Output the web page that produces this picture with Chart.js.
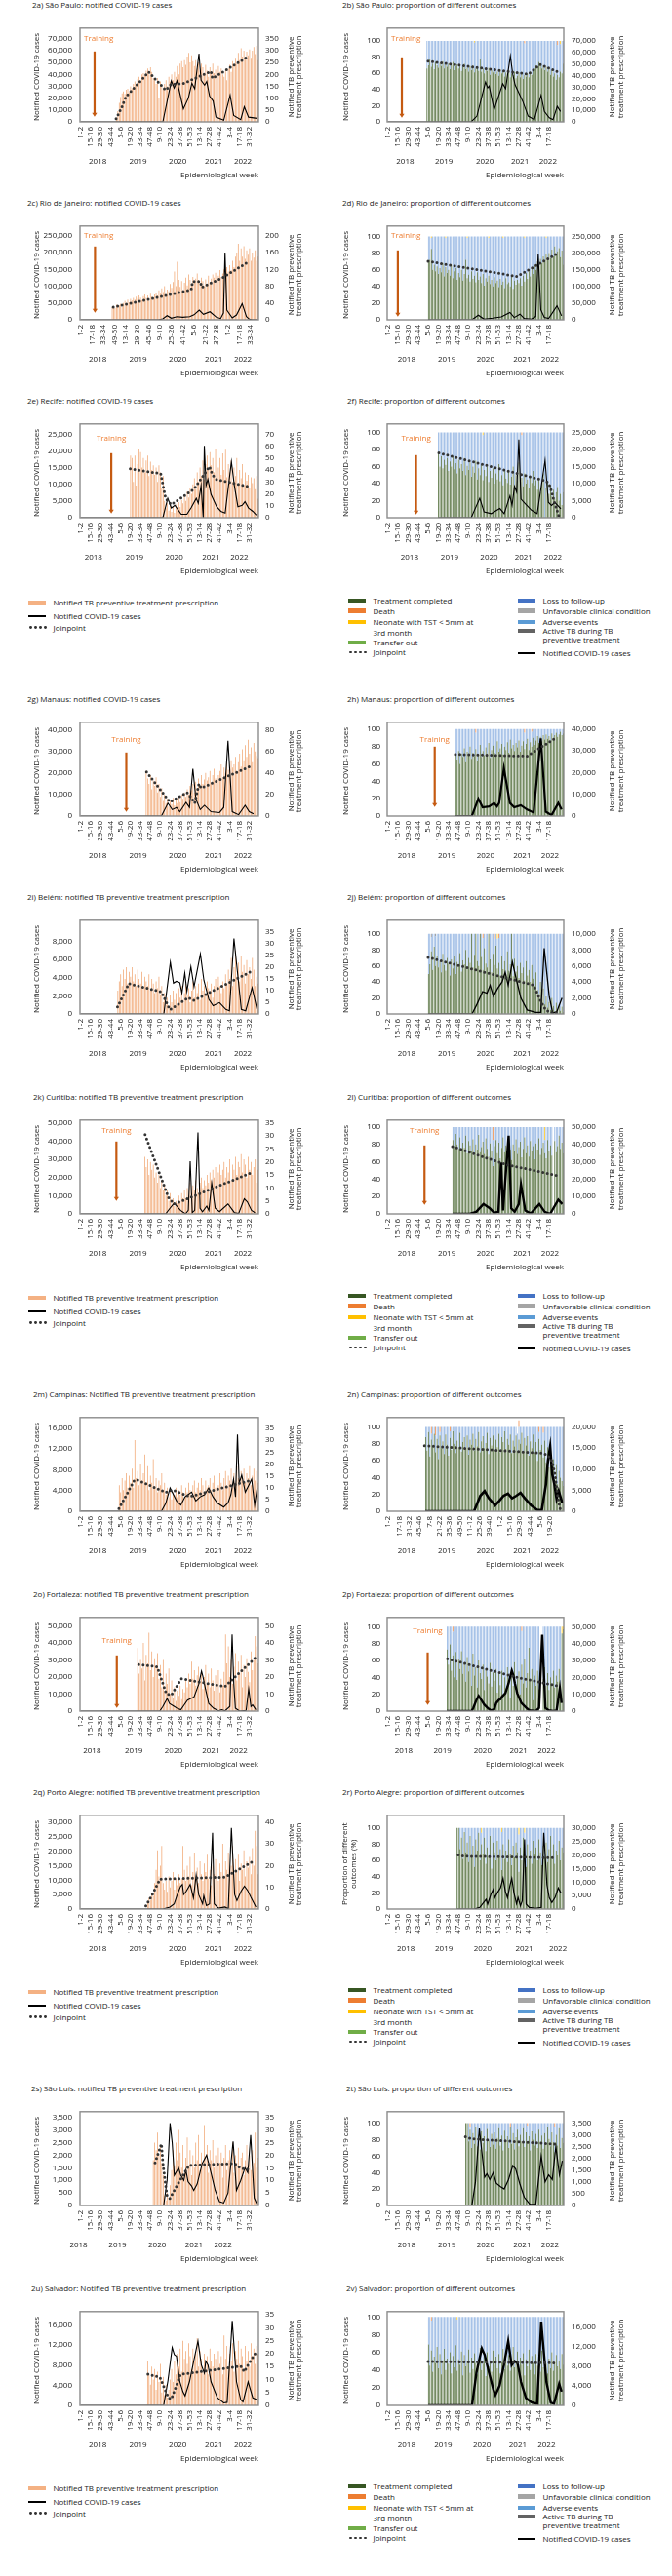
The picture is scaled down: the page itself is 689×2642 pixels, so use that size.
<!DOCTYPE html>
<html>
<head>
<meta charset="utf-8">
<script src="https://cdn.jsdelivr.net/npm/chart.js@4.4.1/dist/chart.umd.min.js"></script>
<style>
  body { margin: 0; width: 689px; height: 2642px; position: relative; background: #fff; font-family: "Open Sans", sans-serif; }
  canvas { position: absolute; }
  .ttl, .lg { position: absolute; font-size: 8px; line-height: 12px; white-space: nowrap; color: #222; }
  .sw { position: absolute; }
</style>
</head>
<body>
<script>
// ---- categories (bi-weekly epidemiological weeks 2018-2022) ----
const yearNames = ['2018', '2019', '2020', '2021', '2022'];
const weeksInYear = [52, 52, 53, 52, 52];
const weekLabels = [];
weeksInYear.forEach(len => {
  for (let w = 1; w < 52; w += 2) weekLabels.push(w + '-' + (w === 51 && len === 53 ? 53 : w + 1));
});
const yearsLeft = [12, 40.5, 68.5, 94, 114.5];
const yearsRight = [13, 41, 68, 93.5, 113];

// ---- São Paulo ----
const spTB = [8,45,80,105,120,128, 118,135,140,125,150,142,160, 170,155,180,190,172,200,205, 195,215,225,200,230,210,185, 175,160,185,100,170,150,140, 160,175,150,190,170,200,175, 210,190,235,200,245,255,230, 260,240,275,290,250,280,255, 235,260,225,250,215,245,230, 200,240,215,190,230,210,245, 205,220,195,235,210,225,200, 190,215,175,225,240,210,255, 235,270,245,290,260,310,275, 300,265,295,280,305,270,300, 315,285,320,260];
const spCovA = [[0,0],[58,0],[64,34500],[66,28500],[68,34500],[72.5,10900],[76,20000],[78.5,32500],[80.5,28000],[83.5,57500],[85,35000],[87.5,31000],[89,34000],[91,21700],[93.5,17600],[95.5,4000],[101,1400],[105.5,22500],[108,5400],[113,1900],[115.5,12700],[118.5,4000],[124.5,3000]];
const spJoinA = [[25,13],[29,61],[32,107],[35,125],[48,210],[60,134],[64,159],[72,160],[92,213],[93,183],[119,278]];
const spDone = [66,70,78,68,72,65,74, 70,67,73,69,75,66,71, 68,72,65,70,74,64,69, 71,66,70,63,68,72,65, 67,62,69,64,70,61,66, 68,63,78,62,66,60,65, 63,67,58,64,61,66,59, 62,57,65,60,63,56,61, 59,64,55,60,58,62,54, 57,61,55,59,53,58,56, 60,55,62,58,64,66,70, 68,74,72,66,70,64,68, 62,66,58,64,56,60,52, 58,55,62,60,72];
const spLoss = [34,30,22,32,28,35,26, 30,33,27,31,25,34,29, 32,28,35,30,26,36,31, 29,34,30,37,32,28,35, 33,38,31,36,30,37,34, 32,37,22,38,34,40,35, 37,33,42,36,39,34,41, 38,43,35,40,37,44,39, 41,36,45,40,42,38,46, 43,39,45,41,47,39,44, 40,45,38,42,36,34,30, 32,26,28,34,30,36,32, 38,34,42,36,44,40,48, 37,45,34,40,28];
const spDeath = [[95,3],[118,5]];
const spNeo = [[60,2],[120,4]];
const spCovB = [[0,0],[58,0],[62,5000],[68,34500],[69.5,29400],[70.5,31000],[74,10600],[80,33000],[82,28800],[85.3,57000],[87,41000],[88.6,32000],[92,23000],[94,17600],[97.7,5000],[102,2000],[106.7,23000],[109,9000],[112.4,3600],[115,2000],[118,13400],[120.3,9000]];
const spJoinB = [[28,75],[98,59],[106,71],[118,62]];

// ---- Rio de Janeiro ----
const rjTB = [30,33,28,36,31,34,38,30, 40,45,37,48,42,50,46,52, 48,55,50,58,53,47,56,60, 52,58,45,62,55,50,60,65, 58,70,62,75,66,80,60,72, 68,85,76,90,115,80,138,95, 78,92,70,88,100,82,108,95, 85,102,90,98,110,95,88,100, 92,80,96,85,105,90,98,108, 100,112,95,105,118,102,110,120, 108,125,115,130,118,140,125,150, 160,181,140,170,150,175,145,165, 155,170,140,160,148,165,140,150];
const rjCovA = [[0,0],[55,0],[58,3000],[61,12500],[64,4800],[68,9600],[72,7700],[77,9600],[80,15000],[83.7,28800],[86.7,16300],[91.3,24000],[95.8,7700],[98.8,3800],[100.8,20000],[101.9,200000],[103.2,28800],[107,5800],[110,14400],[114,48000],[117,9600],[119,2000],[121,0],[125,0]];
const rjJoinA = [[23,30],[78,71.5],[79,91],[84.5,91],[85.5,77],[100,100],[118,137]];
const rjDone = [69,72,85,60,66,58,64, 55,62,57,68,52,63,56, 60,53,66,50,58,62,48, 56,51,60,47,55,72,50, 54,46,58,49,53,45,57, 48,52,44,55,41,50,46, 53,43,48,40,51,44,47, 39,49,42,46,38,50,43, 45,40,52,37,47,42,48, 44,50,41,53,46,56,49, 58,52,62,55,66,60,70, 64,73,68,76,70,79,72, 80,74,84,76,88,78,82, 86,75,83,66];
const rjLoss = [31,28,13,40,34,42,36, 45,38,43,32,48,35,44, 40,47,34,50,42,38,52, 44,49,40,53,45,28,48, 46,54,42,51,47,55,43, 52,48,56,45,59,50,54, 45,57,52,60,49,56,53, 61,51,58,52,62,50,57, 55,60,48,63,53,58,52, 56,50,59,47,52,44,51, 42,48,38,45,34,40,30, 36,27,32,24,30,19,28, 20,26,16,24,12,22,18, 14,25,17,34];
const rjNeo = [[30,2],[40,2],[55,2],[70,2],[80,2],[95,2],[110,2]];
const rjCovB = [[28,0],[58.5,0],[63,14000],[67,2000],[73,5000],[79,9000],[85,22000],[88,7000],[92,17000],[95,4000],[100,2000],[103,10000],[104.7,197000],[106.5,30000],[109,7000],[112,4000],[117.8,42000],[121,12000]];
const rjJoinB = [[28,70],[90,52],[118.5,80]];

// ---- Recife ----
const reTB = [52,50,30,52,27,45,58, 55,42,50,38,48,52,35, 47,40,44,36,42,30,44, 38,25,35,14,8,12,6, 10,5,9,4,11,7,13, 9,15,12,18,14,22,17, 25,20,28,33,24,38,30, 42,35,48,32,45,52,40, 55,44,50,38,58,46,42, 50,36,54,40,57,34,45, 38,48,30,42,35,50,28, 40,33,45,27,38,31,36, 25,34,29,33,24,35,16];
const reCovA = [[0,0],[58,0],[61.5,5800],[64,2900],[66.5,3700],[71,1000],[75,1000],[78,3000],[81.6,5800],[83,4300],[85,9600],[86.5,0],[87.3,21500],[88.5,9600],[89.8,11500],[92,7000],[96,3300],[99,1900],[102,1400],[106.4,16800],[108.5,9600],[111,3300],[114,3700],[116,4800],[118.5,2900],[121.5,1900],[124,800]];
const reJoinA = [[35,41],[56.5,37],[60,16],[64,11],[80,24],[91,43],[93,36],[96,32],[118.5,26]];
const reDone = [75,60,72,58,68,62,70, 55,66,60,72,57,64,52, 68,58,63,55,70,50,61, 56,65,48,60,53,67,45, 58,50,62,44,56,49,60, 42,55,47,58,40,52,45, 63,43,50,38,57,46,41, 54,39,48,60,36,50,44, 65,42,47,37,52,40,45, 35,48,41,55,38,44,33, 46,30,40,52,0,35,42, 28,38,25,33,22,30,36, 20,28,15,30];
const reLoss = [25,40,28,42,32,38,30, 45,34,40,28,43,36,48, 32,42,37,45,30,50,39, 44,35,52,40,47,33,55, 42,50,38,53,44,51,40, 58,45,53,42,60,48,55, 37,57,50,62,43,54,59, 46,61,52,40,64,50,56, 35,58,50,63,48,60,55, 65,52,59,45,62,56,67, 54,70,60,48,100,65,58, 72,62,75,67,78,70,64, 80,72,85,70];
const reDeath = [[93,3]];
const reNeo = [[66,3]];
const reCovB = [[35,0],[58,0],[64,5700],[67,1700],[72,1200],[78,2700],[81,1200],[85,6400],[86.5,3600],[88.2,9200],[89.7,7500],[91.2,22900],[92.7,5500],[95.5,4200],[100,2200],[104,1200],[109.5,16800],[111.8,4500],[114,3600],[116.3,4500],[120.5,2600]];
const reJoinB = [[35.5,76],[110.5,43],[113,37],[116,18],[119.5,0]];

// ---- Manaus ----
const maTB = [42,35,30,38,25,33,28, 36,22,30,18,26,14,20, 12,16,9,14,11,17,10, 15,12,18,13,20,16,22, 18,25,20,28,24,30,22, 32,26,35,28,38,30,34, 40,33,36,42,30,38,44, 35,46,38,42,48,36,45, 40,50,43,38,52,45,48, 55,42,50,58,46,62,52, 66,55,71,58,64,50,68, 60,56,54];
const maCovA = [[0,0],[57,0],[61.6,6000],[64.6,3000],[67.7,4000],[70,2000],[73,5000],[74.4,6400],[76.8,4000],[79.2,22000],[81.3,8000],[84.4,3000],[87.4,5000],[92,2000],[98,1600],[101,4000],[104,35000],[107,2000],[111.5,600],[116.1,5000],[119,2000],[122,1000]];
const maJoinA = [[46.5,41],[63,13],[75,22],[78,17],[80.5,12],[83.5,30],[85,26],[121,47]];
const maDone = [70,65,75,60,72,68,78, 62,74,70,80,66,73,69, 77,64,71,82,68,75,70, 79,72,84,67,76,81,73, 70,86,74,78,83,71,80, 76,85,73,88,78,82,75, 84,79,87,74,81,86,77, 83,89,76,85,80,90,82, 87,92,84,91,86,93,88, 94,89,92,87,95,90,93, 96,91,94,97,93,95];
const maLoss = [30,35,25,40,28,32,22, 38,26,30,20,34,27,31, 19,36,29,18,32,25,30, 21,28,16,33,24,19,27, 30,14,26,22,17,29,20, 24,15,27,12,22,18,25, 16,21,13,26,19,14,19, 17,11,24,15,17,10,18, 13,8,16,9,14,7,12, 6,11,8,13,5,10,7, 4,9,6,3,7,5];
const maDeath = [[61,4],[95,4],[100,3]];
const maCovB = [[47,0],[58.5,0],[63,8000],[66,4000],[70.5,4400],[74,6000],[76,4400],[77.5,6000],[80.8,22000],[85,6000],[88,4000],[92.6,5000],[97,3000],[101.5,1600],[106.5,35700],[110,2000],[114,400],[118.7,6000],[121,3000]];
const maJoinB = [[47,71],[97,69],[117,90]];

// ---- Belém ----
const beTB = [10,14,17,12,19,15,20, 13,18,16,20,14,17,12, 19,15,13,18,11,16,14, 12,17,10,15,13,9,14, 11,16,8,12,5,9,4, 7,3,8,5,10,6,9, 4,11,7,12,6,9,13, 8,11,5,10,14,7,12, 9,13,6,15,10,12,8, 14,11,9,13,7,12,15, 10,16,12,9,14,11,17, 13,19,15,24,12,20,27, 16,22,14,25,18,21,13, 23,17,20,15,24,19,12, 16,13];
const beCovA = [[0,0],[58.7,0],[63.3,5700],[65.5,3400],[67.6,3600],[70,3450],[71.5,2300],[73.5,4500],[75,2500],[77.8,5200],[80,3000],[84.5,6600],[87,3700],[90.5,1600],[93.5,900],[98,1250],[102.5,500],[105,350],[108.2,8300],[111.3,3700],[113.4,500],[116.5,350],[121,2900],[124.5,500]];
const beJoinA = [[26,3],[30,8],[34,13],[57,9.5],[63,1.8],[76,7],[80,5.8],[121,18.4]];
const beDone = [50,62,78,55,84,60,72, 58,66,52,75,61,54,70, 63,48,68,57,72,50,65, 59,76,53,67,62,80,56, 70,64,100,58,74,100,66, 60,100,71,55,82,63,58, 100,68,52,75,61,85,57, 64,48,72,56,66,50,78, 54,62,100,47,69,53,60, 45,64,51,58,42,66,48, 55,40,61,44,35,52,30, 25,40,18,32,12,22,8, 15,5,20,10,3,14,6, 12,4,9,2];
const beLoss = [50,38,18,45,16,37,28, 42,34,48,25,39,46,30, 37,52,32,43,28,50,35, 41,24,47,33,38,20,44, 30,36,0,42,26,0,34, 40,0,29,40,18,37,42, 0,32,48,25,33,15,37, 31,52,28,44,34,50,22, 46,38,0,53,31,47,40, 55,36,49,42,58,34,52, 45,60,39,56,65,48,70, 75,60,82,68,88,78,92, 85,95,80,90,97,86,94, 88,96,91,98];
const beDeath = [[66,5],[74,6],[77,5]];
const beNeo = [[76,6]];
const beActive = [[30,4],[33,3]];
const beCovB = [[28,0],[58.6,0],[62,1200],[66,2800],[69,2600],[71.2,3600],[73.5,2200],[76.5,3200],[79.5,4000],[81.7,5200],[83.8,3600],[86.7,6500],[89.6,4200],[92.6,2000],[97,500],[103,200],[106.5,200],[108.9,8200],[112.4,2200],[114.8,100],[117.7,300],[121.3,2000]];
const beJoinB = [[28,70.6],[101.5,36],[104,26],[107,14],[110,5],[113,2],[119,0.8]];

// ---- Curitiba ----
const cuTB = [22,18,21,15,20,17,19, 14,16,12,15,10,13,9, 11,7,9,5,8,4,6, 3,5,4,7,5,8,6, 9,6,10,7,12,8,11, 9,13,10,8,12,14,10, 13,11,15,12,16,13,17, 14,18,12,16,19,15,17, 20,14,18,16,21,13,19, 17,22,15,20,18,23,16, 21,19,14,22,17,20,15, 18,21,12,17];
const cuCovA = [[0,0],[60,0],[63,3100],[66,6000],[70.5,1900],[74,0],[76,2000],[77.3,29000],[78.8,700],[80.5,2000],[82.8,44800],[84.3,3100],[86,1200],[89,4300],[90.5,1900],[92.5,17000],[95,3100],[98,1200],[104,5500],[108.5,700],[111.5,200],[115.5,8300],[117.6,6700],[120.6,1900],[123,700]];
const cuJoinA = [[45.5,30.5],[62,6.3],[66,3.8],[121,16]];
const cuDone = [85,78,92,80,75,88,72, 82,76,90,70,84,79,73, 86,68,80,74,91,71,77, 83,69,87,75,66,81,72, 55,78,85,70,82,64,76, 88,71,79,67,84,74,62, 80,73,86,69,77,83,65, 75,88,70,79,66,84,72, 78,63,81,74,87,68,76, 82,70,64,85,73,79,67, 0,84,71,78,90,75,82, 70];
const cuLoss = [15,22,8,20,25,12,28, 18,24,10,30,16,21,27, 14,32,20,26,9,29,23, 17,31,13,25,34,19,28, 30,22,15,30,18,36,24, 12,29,21,33,16,26,38, 20,27,14,31,23,17,35, 25,12,30,21,34,16,28, 22,37,19,26,13,32,24, 18,15,36,15,27,21,33, 0,16,29,22,10,25,18, 30];
const cuDeath = [[73,15]];
const cuNeo = [[109,15]];
const cuCovB = [[45,0],[57,0],[61.5,1200],[66.6,5700],[71,3200],[74,700],[77,1200],[78.8,29600],[80.2,2000],[84.1,45000],[85.9,3200],[88.3,1200],[91.2,5700],[92.7,17000],[95.7,2000],[99.5,200],[105.5,5700],[109.2,1200],[113,0],[118.7,8200],[121.5,5700]];
const cuJoinB = [[45,77.6],[82,57],[119,43.8]];

// ---- Campinas ----
const caTB = [11,8,14,9,13,16,10, 15,12,18,10,30,14,17, 11,20,13,16,24,12,19, 9,15,12,22,10,14,8, 13,11,16,9,12,7,10, 6,9,5,8,7,10,6, 9,7,11,8,6,10,8, 12,9,7,11,13,8,10, 12,9,14,11,8,13,10, 11,14,9,12,15,10,13, 11,16,12,9,14,17,11, 15,13,18,10,16,12,19, 14,11,17,13,18,12,16, 14,19,11,15,18,13,17, 12];
const caCovA = [[0,0],[57,0],[60,1500],[63.1,4500],[67.7,2000],[70.7,1200],[73.7,2800],[78.3,3700],[81.3,2000],[84.4,2800],[87.4,3200],[90.4,4500],[93.4,2800],[96.5,1600],[101,800],[104,1600],[106,3200],[107.9,6200],[109.3,2800],[110.7,14800],[111.9,5400],[113.7,7000],[116.2,3700],[118.6,5000],[120.7,6200],[122.8,1200],[124.6,4500]];
const caJoinA = [[27,1.1],[38,13.2],[40,13.2],[60,8],[65,9],[77,6.2],[121,13.2]];
const caDone = [88,72,94,65,85,78,92, 70,86,62,90,75,83,68, 91,79,66,87,73,95,80, 69,84,76,93,71,82,88, 74,90,67,85,79,92,72, 86,77,94,70,83,89,75, 81,93,68,87,78,90,73, 85,76,92,70,88,82,95, 74,86,79,91,69,84,77, 90,72,85,80,93,71,87, 78,89,66,83,75,91,70, 82,60,86,73,79,64,84, 58,76,52,70,45,62,38, 55,32,48,40,36,30];
const caLoss = [12,28,6,35,7,22,8, 20,14,38,4,25,17,32, 9,21,34,8,27,5,20, 31,16,24,7,29,18,12, 26,10,33,15,21,8,28, 14,23,6,30,17,11,25, 19,7,32,13,22,10,27, 15,24,8,30,12,18,5, 26,14,21,9,31,16,23, 10,20,15,20,7,29,13, 22,11,34,17,25,9,30, 18,40,8,27,21,29,16, 42,24,48,30,55,38,62, 45,68,52,60,64,70];
const caDeath = [[30,8],[33,10],[36,6],[43,5],[91,8],[105,6],[108,7]];
const caCovB = [[26,0],[60,0],[64.4,3700],[67.4,4800],[70.3,3100],[74.7,1400],[77.7,2500],[80.6,3700],[83.6,4200],[86.5,3100],[89.5,3700],[92.4,4400],[95.4,3100],[99.8,1400],[104.2,300],[107.2,300],[110.1,6400],[111.5,12000],[113,15300],[114.5,8700],[116,6400],[117.5,3000],[119,4800],[121.5,2000]];
const caJoinB = [[25.5,77.8],[107,69],[111.5,66.5],[114.5,58.8],[116.5,43],[117.5,28],[119,11],[120,3]];

// ---- Fortaleza ----
const foTB = [37,22,30,25,40,18,33, 28,46,24,35,20,31,26, 34,19,27,14,30,12,22, 16,25,10,18,8,14,6, 12,9,15,7,13,11,18, 14,22,16,29,19,24,15, 21,26,17,23,13,20,27, 16,22,14,25,18,12,21, 17,24,11,19,15,23,45, 28,38,20,30,16,26,34, 18,29,22,33,14,27,20, 31,23,17,35,24,30,44, 38,28];
const foCovA = [[0,0],[55.8,0],[58,2700],[61.1,7400],[62.7,4500],[66.1,2700],[68.4,1500],[70.7,800],[73,3600],[75.4,6400],[77.7,7400],[80,8300],[83.4,15900],[85.3,23500],[86.2,20600],[87.4,15900],[88.1,13000],[90.4,4500],[93.8,1700],[97.3,200],[99.6,800],[101.9,200],[105.3,2700],[106.9,45000],[108.1,15900],[109.2,1700],[112.2,0],[116.8,400],[118.6,13000],[120.2,2700],[121.4,3600],[123.7,800]];
const foJoinA = [[41,27.3],[54,26],[60.5,10.2],[64,9.3],[71,19],[101.8,14.4],[123,31]];
const foDone = [73,55,79,48,66,40,70, 37,62,50,71,44,58,35, 64,47,56,30,68,42,52, 28,60,45,38,55,25,49, 41,33,57,29,46,36,50, 22,44,31,48,18,40,27, 52,35,15,43,30,58,24, 38,47,20,55,33,62,28, 45,75,36,50,13,42,30, 48,26,0,0,38,52,30, 45,25,40,33,48,28,42, 35,50,30,92,97];
const foLoss = [27,45,21,52,28,60,30, 63,38,50,29,56,42,65, 36,53,44,70,32,58,48, 72,40,55,62,45,75,51, 59,67,43,71,54,64,50, 78,56,69,52,82,60,73, 48,65,85,57,70,42,76, 62,53,80,40,67,38,72, 55,25,64,50,87,58,70, 52,74,0,0,62,48,70, 55,75,60,67,52,72,58, 65,50,70,0,0];
const foDeath = [[45,6],[93,5]];
const foNeo = [[121,8],[122,3]];
const foCovB = [[41,0],[58.3,0],[59.5,1900],[61.7,6700],[63.2,9000],[65,6700],[67.2,3800],[69.4,1900],[71.7,400],[74,1000],[75.5,4800],[77.3,6700],[78.4,7100],[79.5,8600],[81.8,10600],[84,16300],[86.3,24000],[87.4,21200],[88.5,16300],[90.1,10600],[93,4800],[96.4,1900],[98.6,400],[103.1,0],[105.3,1900],[107.5,45200],[109.7,1900],[112,400],[115.3,0],[117.5,400],[119.8,13500],[121,4800]];
const foJoinB = [[41.5,62],[90,40],[118,30]];

// ---- Porto Alegre ----
const paTB = [3,5,4,7,6,12,18, 27,15,20,29,12,9,13, 8,15,10,13,17,9,14, 11,16,12,14,29,18,13, 20,15,24,11,17,26,14, 19,12,22,16,13,21,17, 25,14,18,11,20,16,23, 19,13,21,17,30,15,22, 18,26,14,20,29,16,23, 17,25,13,21,18,27,15, 22,19,24,16,28,20,36, 29,16];
const paCovA = [[0,0],[58,0],[63,700],[66,1800],[68.2,5000],[70.5,7800],[71.8,8500],[72.7,5000],[74.6,6200],[77.3,8500],[79.6,3800],[81.5,11800],[83.3,5000],[86.1,1800],[86.9,4600],[88.8,1200],[91,1800],[93.1,26300],[94.3,1800],[97.3,300],[101.9,700],[104.2,100],[106.4,28000],[108.7,5000],[110.3,2900],[113.3,6200],[115.6,7900],[117.9,6400],[120.2,4000],[123.7,700]];
const paJoinA = [[46,1.5],[50,6],[56,13.8],[102,14.7],[122,22]];
const paDone = [100,100,74,88,62,95,70, 82,58,90,66,78,52,86, 72,94,60,80,68,88,56, 76,64,90,50,82,70,60, 84,66,74,48,80,62,72, 58,86,68,54,78,64,82, 70,46,76,60,88,66,52, 80,62,72,56,84,68,76, 60,86,70,54,78,64,82, 58,74,90,62,80,56,72, 66,84,60,76,70];
const paLoss = [0,0,26,12,38,5,30, 18,42,10,34,22,48,14, 28,6,40,14,32,12,44, 24,36,10,50,18,30,40, 16,34,26,47,20,38,28, 42,14,32,46,22,36,18, 30,46,24,40,12,28,48, 20,38,28,44,16,32,24, 40,14,30,46,22,36,18, 42,26,10,38,20,44,28, 34,16,40,24,30];
const paNeo = [[65,6],[79,5],[91,8],[95,6]];
const paCovB = [[48,0],[60,0],[64,600],[68.4,3600],[69.5,1800],[71.7,5400],[73.3,7200],[74.4,4200],[76.2,6000],[78.4,7800],[80.2,11400],[81.8,6600],[83.3,4200],[85.1,9000],[86.3,11400],[87.8,6000],[89.6,2000],[90.7,4200],[92.3,1200],[93.6,3000],[95.2,25800],[96.3,1800],[98.5,600],[103,200],[106.8,600],[108.6,28200],[110.8,9000],[112.4,4200],[114.2,2400],[116.4,4200],[118.7,7800],[120.5,6000]];
const paJoinB = [[49,66.8],[53,65.2],[117,63.2]];

// ---- São Luís ----
const slTB = [18,25,22,29,20,24,17, 12,4,2,5,3,8,14, 22,16,25,18,30,21,15, 24,13,19,27,16,22,12, 20,15,25,18,28,14,21, 17,32,19,24,13,22,18, 26,15,20,12,23,17,21, 11,19,24,14,18,22,16, 25,13,20,17,23,15,19, 21,12,18,24,16,20,14, 22,17,29,15,19];
const slCovA = [[0,0],[58.6,0],[61,1000],[63.1,3270],[64.6,2500],[66.1,1200],[67.6,1350],[69.1,1500],[70.7,1200],[72.8,1000],[74.3,1400],[75.8,950],[78.2,780],[79.8,600],[82.2,850],[85.8,1670],[88.9,2000],[92,1300],[95,600],[98,150],[101,100],[104,500],[107.6,2550],[110,600],[113,1000],[116,1500],[118,1300],[120,2800],[122.5,300],[124.5,50]];
const slJoinA = [[52.5,17],[55.5,22],[57,24.5],[58,17],[61,3.6],[63,2.8],[68,8],[76.5,16],[108.5,16.7],[113,14.8],[118,14.4]];
const slDone = [100,100,78,92,70,88,75, 95,72,86,68,90,76,84, 66,93,79,71,87,74,89, 69,82,94,73,85,67,91, 77,84,70,96,75,88,68, 83,92,72,86,78,94,71, 89,76,84,67,90,80,73, 87,70,92,78,85,69,88, 74,96,81,72,89,77,65, 86,73,94,70,82,76];
const slLoss = [0,0,22,4,30,12,25, 5,28,14,32,10,24,16, 34,7,21,29,13,26,11, 31,18,6,27,15,33,9, 23,16,30,0,25,12,32, 17,8,28,14,22,6,29, 11,21,16,33,10,20,27, 13,30,8,22,15,31,12, 26,4,19,28,11,23,30, 14,27,6,30,18,24];
const slDeath = [[57,4],[85,4],[97,3],[116,5]];
const slCovB = [[54,0],[58.5,0],[61,1000],[63.7,3270],[65.4,2300],[67.4,1200],[69,1350],[71,1100],[73.4,1400],[75.5,950],[78.5,800],[81,700],[84,1100],[87,1700],[89,1550],[92,900],[95,350],[99,50],[103,50],[106.8,2100],[109.5,1000],[112,1300],[114.5,1100],[117,2500],[119.5,1300],[121.5,1900]];
const slJoinB = [[54,83.5],[58,81],[118,74.5]];

// ---- Salvador ----
const saTB = [17,12,8,15,10,14,6, 13,9,16,5,11,4,8, 3,6,10,14,9,17,12, 20,15,22,13,25,18,21, 16,24,19,14,22,17,20, 26,15,21,18,13,20,16, 19,12,22,17,15,20,18, 14,21,16,19,12,27,18, 23,15,20,17,24,13,21, 18,25,16,22,19,14,23, 17,21,15,24,19,22,16, 23,20];
const saCovA = [[0,0],[58.6,0],[61.6,4900],[64.6,11500],[66.1,10100],[67.6,9800],[70,4700],[72.2,2700],[73.7,1900],[76.8,4700],[79.8,8800],[82.8,12800],[85.2,8000],[87.3,6400],[88.3,8800],[89.9,8000],[92,4700],[96.5,1500],[101,500],[103.4,600],[107,16800],[110,4700],[113,1100],[114.6,700],[118.2,4700],[121.5,1500],[124.5,1100]];
const saJoinA = [[47.5,12.1],[56,10.8],[62,2.9],[64,2.4],[70.5,12],[108.5,14.8],[113,15.2],[115.5,13],[118,15.5],[123.5,20.3]];
const saDone = [69,45,62,38,55,48,66, 42,58,35,51,64,40,53, 47,60,36,56,43,68,39, 52,46,61,34,57,44,50, 63,37,54,41,59,48,35, 52,65,40,47,56,33,60, 44,51,38,62,46,55,42, 58,36,49,64,41,53,45, 57,39,50,66,43,48,61, 37,54,46,59,34,52,44, 63,40,56,48,35,58,45, 51,38,62,43,55,47,36, 53,42,60,39,49,57,44, 50,41,58,46];
const saLoss = [31,55,34,62,45,52,34, 58,42,65,49,36,60,47, 53,40,64,44,57,32,58, 48,54,39,66,43,56,50, 37,63,46,59,41,52,65, 48,35,60,53,44,67,40, 56,49,62,38,54,45,58, 42,64,51,36,59,47,55, 43,61,50,34,57,52,39, 63,46,54,41,66,48,56, 37,60,44,52,65,42,55, 49,62,38,57,45,53,64, 47,58,40,61,51,43,56, 50,59,42,54];
const saDeath = [[30,4]];
const saNeo = [[48,3]];
const saCovB = [[28,0],[58.6,0],[61.7,6700],[65.4,11600],[67.4,10300],[70.4,6700],[73.4,3300],[74.9,2100],[77.8,4000],[80.8,8200],[83.8,13100],[86.2,8200],[88.3,9000],[90.3,8600],[92.7,4800],[96.2,1500],[100,600],[104,300],[106.8,17000],[110.4,4800],[113.4,600],[115.7,300],[119.3,4400],[121,2800]];
const saJoinB = [[28,49.5],[118,48]];

// ---- panels ----
const panels = [
  {side: 'L', t: 5, tx: 33, title: '2a) São Paulo: notified COVID-19 cases', yl: [70000, 10000], yr: [350, 50], head: 1.128,
   train: {i: 9.8, ty: 11, a0: 24, a1: 91}, bars: spTB, start: 25, cov: spCovA, join: spJoinA},
  {side: 'R', t: 5, tx: 351, title: '2b) São Paulo: proportion of different outcomes', yr: [70000, 10000], head: 1.159,
   train: {i: 9.7, ty: 11, a0: 30, a1: 92}, done: spDone, loss: spLoss, start: 27, death: spDeath, neo: spNeo, cov: spCovB, join: spJoinB, lw: 1.1, years: [12, 39, 67.5, 92, 111.5]},
  {side: 'L', t: 208, tx: 28, title: '2c) Rio de Janeiro: notified COVID-19 cases', yl: [250000, 50000], yr: [200, 20], head: 1.115,
   train: {i: 10.1, ty: 10, a0: 21, a1: 89}, bars: rjTB, start: 22, cov: rjCovA, join: rjJoinA, tk: [8, 8, 120]},
  {side: 'R', t: 208, tx: 351, title: '2d) Rio de Janeiro: proportion of different outcomes', yr: [250000, 50000], head: 1.124,
   train: {i: 6.9, ty: 10, a0: 25, a1: 93}, done: rjDone, loss: rjLoss, start: 28, neo: rjNeo, cov: rjCovB, join: rjJoinB, lw: 1.1},
  {side: 'L', t: 411, tx: 28, title: '2e) Recife: notified COVID-19 cases', yl: [25000, 5000], yr: [70, 10], head: 1.123,
   train: {i: 21.6, ty: 15, a0: 30, a1: 92}, bars: reTB, start: 35, cov: reCovA, join: reJoinA, years: [9, 38, 66, 92, 112]},
  {side: 'R', t: 411, tx: 356, title: '2f) Recife: proportion of different outcomes', yr: [25000, 5000], head: 1.10,
   train: {i: 19.6, ty: 15, a0: 32, a1: 93}, done: reDone, loss: reLoss, start: 35, death: reDeath, neo: reNeo, cov: reCovB, join: reJoinB, lw: 1.1, years: [15, 43, 70.5, 94.5, 115]},
  {side: 'L', t: 717, tx: 28, title: '2g) Manaus: notified COVID-19 cases', yl: [40000, 5000], yr: [80, 10], head: 1.09,
   train: {i: 32.2, ty: 18, a0: 31, a1: 92}, bars: maTB, start: 46, cov: maCovA, join: maJoinA},
  {side: 'R', t: 717, tx: 356, title: '2h) Manaus: proportion of different outcomes', yr: [40000, 5000], head: 1.079,
   train: {i: 32.6, ty: 18, a0: 25, a1: 87}, done: maDone, loss: maLoss, start: 47, death: maDeath, cov: maCovB, join: maJoinB, lw: 2.2},
  {side: 'L', t: 920, tx: 28, title: '2i) Belém: notified TB preventive treatment prescription', yl: [9000, 1000], yr: [35, 5], head: 1.146,
   bars: beTB, start: 26, cov: beCovA, join: beJoinA},
  {side: 'R', t: 920, tx: 356, title: '2j) Belém: proportion of different outcomes', yr: [10000, 2000], head: 1.17,
   done: beDone, loss: beLoss, start: 28, death: beDeath, neo: beNeo, active: beActive, cov: beCovB, join: beJoinB, lw: 1.3},
  {side: 'L', t: 1125, tx: 34, title: '2k) Curitiba: notified TB preventive treatment prescription', yl: [50000, 5000], yr: [35, 5], head: 1.033,
   train: {i: 25.2, ty: 11, a0: 22, a1: 83}, bars: cuTB, start: 45, cov: cuCovA, join: cuJoinA},
  {side: 'R', t: 1125, tx: 356, title: '2l) Curitiba: proportion of different outcomes', yr: [50000, 5000], head: 1.08,
   train: {i: 25.5, ty: 11, a0: 26, a1: 87}, done: cuDone, loss: cuLoss, start: 45, death: cuDeath, neo: cuNeo, cov: cuCovB, join: cuJoinB, lw: 2.4},
  {side: 'L', t: 1430, tx: 34, title: '2m) Campinas: Notified TB preventive treatment prescription', yl: [16000, 2000], yr: [35, 5], head: 1.131,
   bars: caTB, start: 27, cov: caCovA, join: caJoinA},
  {side: 'R', t: 1430, tx: 356, title: '2n) Campinas: proportion of different outcomes', yr: [20000, 5000], head: 1.113,
   done: caDone, loss: caLoss, start: 26, death: caDeath, cov: caCovB, join: caJoinB, lw: 2.6, tk: [7, 8, 113]},
  {side: 'L', t: 1635, tx: 34, title: '2o) Fortaleza: notified TB preventive treatment prescription', yl: [50000, 5000], yr: [50, 5], head: 1.099,
   train: {i: 25.5, ty: 24, a0: 39, a1: 93}, bars: foTB, start: 40, cov: foCovA, join: foJoinA, years: [8, 37.5, 65.5, 92, 111.5]},
  {side: 'R', t: 1635, tx: 351, title: '2p) Fortaleza: proportion of different outcomes', yr: [50000, 10000], head: 1.11,
   train: {i: 27.7, ty: 14, a0: 36, a1: 90}, done: foDone, loss: foLoss, start: 41, death: foDeath, neo: foNeo, cov: foCovB, join: foJoinB, lw: 2.4, years: [11, 38, 66, 91, 110.5]},
  {side: 'L', t: 1838, tx: 34, title: '2q) Porto Alegre: notified TB preventive treatment prescription', yl: [30000, 5000], yr: [40, 5], head: 1.078,
   bars: paTB, start: 47, cov: paCovA, join: paJoinA},
  {side: 'R', t: 1838, tx: 351, title: '2r) Porto Alegre: proportion of different outcomes', yr: [30000, 5000], head: 1.156,
   done: paDone, loss: paLoss, start: 48, neo: paNeo, cov: paCovB, join: paJoinB, lw: 1.2,
   lt: ['Proportion of different', 'outcomes (%)'], ltx: [9, 17.5], years: [12.5, 39, 66, 95, 118.5]},
  {side: 'L', t: 2142, tx: 32, title: '2s) São Luís: notified TB preventive treatment prescription', yl: [3500, 500], yr: [35, 5], head: 1.065,
   bars: slTB, start: 51, cov: slCovA, join: slJoinA, years: [-1.5, 26, 54, 80, 100.5]},
  {side: 'R', t: 2142, tx: 355, title: '2t) São Luís: proportion of different outcomes', yr: [3500, 500], head: 1.14,
   done: slDone, loss: slLoss, start: 54, death: slDeath, cov: slCovB, join: slJoinB, lw: 1.2},
  {side: 'L', t: 2347, tx: 32, title: '2u) Salvador: Notified TB preventive treatment prescription', yl: [18000, 2000], yr: [35, 5], head: 1.036,
   bars: saTB, start: 47, cov: saCovA, join: saJoinA},
  {side: 'R', t: 2347, tx: 355, title: '2v) Salvador: proportion of different outcomes', yr: [18000, 2000], head: 1.06,
   done: saDone, loss: saLoss, start: 28, death: saDeath, neo: saNeo, cov: saCovB, join: saJoinB, lw: 2.4, years: [13, 38.5, 65.5, 90.5, 110.5]}
];
const legendTops = [616, 1329, 2041, 2550];

const FONT = '"Open Sans", sans-serif';
Chart.defaults.font.family = FONT;
Chart.defaults.font.size = 8;
Chart.defaults.color = '#222';

// frame, "Training" marker and rotated side titles
const decor = {
  id: 'decor',
  afterDatasetsDraw(chart, args, o) {
    const {ctx, chartArea: a} = chart;
    ctx.save();
    ctx.strokeStyle = '#8c8c8c';
    ctx.lineWidth = 1.4;
    ctx.strokeRect(a.left, a.top, a.right - a.left, a.bottom - a.top);
    const tr = o.train;
    if (tr) {
      const x = chart.scales.xl.getPixelForValue(tr.i);
      const y0 = a.top + tr.a0, y1 = a.top + tr.a1;
      ctx.strokeStyle = '#c55a11';
      ctx.fillStyle = '#c55a11';
      ctx.lineWidth = 2.2;
      ctx.beginPath(); ctx.moveTo(x, y0); ctx.lineTo(x, y1 - 3); ctx.stroke();
      ctx.beginPath(); ctx.moveTo(x - 2.6, y1 - 4); ctx.lineTo(x + 2.6, y1 - 4); ctx.lineTo(x, y1); ctx.closePath(); ctx.fill();
      ctx.font = '8px ' + FONT;
      ctx.fillStyle = '#ed7d31';
      ctx.textBaseline = 'middle';
      const w = ctx.measureText('Training').width;
      ctx.fillText('Training', Math.max(a.left + 4, x - w / 2), a.top + tr.ty);
    }
    ctx.restore();
  },
  afterDraw(chart, args, o) {
    const {ctx, chartArea: a} = chart;
    const yc = (a.top + a.bottom) / 2 + 2;
    ctx.save();
    ctx.font = '8px ' + FONT;
    ctx.fillStyle = '#222';
    ctx.textAlign = 'center';
    ctx.textBaseline = 'middle';
    [[o.lt, o.ltx], [o.rt, o.rtx]].forEach(([lines, xs]) => {
      lines.forEach((s, k) => {
        ctx.save(); ctx.translate(xs[k], yc); ctx.rotate(-Math.PI / 2); ctx.fillText(s, 0, 0); ctx.restore();
      });
    });
    ctx.restore();
  }
};

function yAxis(top, step, head, pos, width, pad, stacked) {
  return {
    position: pos, min: 0, max: top * head, stacked: stacked,
    grid: {display: false, drawTicks: false}, border: {display: false},
    ticks: {padding: pad, color: '#222', font: {size: 8}, callback: v => v.toLocaleString('en-US')},
    afterBuildTicks: s => {
      const t = [];
      for (let v = 0; v <= top + 1e-6; v += step) t.push({value: v});
      s.ticks = t;
    },
    afterFit: s => { s.width = width; }
  };
}

function build(p) {
  const L = p.side === 'L';
  const n = L ? 126 : 123;
  const ttl = document.createElement('div');
  ttl.className = 'ttl';
  ttl.textContent = p.title;
  ttl.style.left = p.tx + 'px';
  ttl.style.top = (p.t - 6) + 'px';
  document.body.appendChild(ttl);

  const cv = document.createElement('canvas');
  cv.width = L ? 345 : 344;
  cv.height = 172;
  cv.style.left = (L ? 0 : 345) + 'px';
  cv.style.top = (p.t + 11) + 'px';
  document.body.appendChild(cv);

  const tk = p.tk || (L ? [7, 7, 119] : [7, 7, 112]);
  const shown = new Set([0]);
  for (let i = tk[1]; i <= tk[2]; i += tk[0]) shown.add(i);
  const yrs = p.years || (L ? yearsLeft : yearsRight);

  const pts = a => a.map(([x, y]) => ({x, y}));
  const col = (vals, start) => {
    const r = new Array(n).fill(null);
    vals.forEach((v, k) => { if (start + k < n) r[start + k] = v; });
    return r;
  };
  const sparse = a => {
    const r = new Array(n).fill(null);
    (a || []).forEach(([i, v]) => { r[i] = v; });
    return r;
  };
  const dots = {type: 'line', xAxisID: 'xl', borderColor: '#333', borderWidth: 3, borderDash: [0, 4.6],
    borderCapStyle: 'round', pointRadius: 0, tension: 0, order: 1};
  const covid = {type: 'line', xAxisID: 'xl', borderColor: '#000', borderWidth: p.lw || 1.1,
    pointRadius: 0, tension: 0, order: 2};
  const bar = {type: 'bar', xAxisID: 'x', yAxisID: 'y', stack: 'p', barPercentage: 1, categoryPercentage: 0.96};

  let datasets;
  if (L) {
    datasets = [
      Object.assign({}, dots, {data: pts(p.join), yAxisID: 'y2'}),
      Object.assign({}, covid, {data: pts(p.cov), yAxisID: 'y'}),
      Object.assign({}, bar, {data: col(p.bars, p.start), yAxisID: 'y2', backgroundColor: '#f0a068', order: 3})
    ];
  } else {
    datasets = [
      Object.assign({}, dots, {data: pts(p.join), yAxisID: 'y'}),
      Object.assign({}, covid, {data: pts(p.cov), yAxisID: 'y2'}),
      Object.assign({}, bar, {data: col(p.done, p.start), backgroundColor: '#3a5a20', order: 10}),
      Object.assign({}, bar, {data: col(p.loss, p.start), backgroundColor: '#82a9de', order: 11}),
      Object.assign({}, bar, {data: sparse(p.death), backgroundColor: '#ed7d31', order: 12}),
      Object.assign({}, bar, {data: sparse(p.neo), backgroundColor: '#ffc000', order: 13}),
      Object.assign({}, bar, {data: sparse(p.active), backgroundColor: '#7f7f7f', order: 14})
    ];
  }

  new Chart(cv, {
    type: 'bar',
    data: {datasets},
    options: {
      responsive: false,
      animation: false,
      events: [],
      layout: {padding: {top: 12, bottom: 1, left: 0, right: 0}},
      plugins: {
        legend: {display: false},
        tooltip: {enabled: false},
        decor: {
          train: p.train || null,
          lt: p.lt || ['Notified COVID-19 cases'],
          ltx: p.ltx || (L ? [37.5] : [9.5]),
          rt: ['Notified TB preventive', 'treatment prescription'],
          rtx: L ? [298.5, 307] : [283, 291.5]
        }
      },
      scales: {
        x: {
          type: 'category', labels: weekLabels.slice(0, n), offset: true, stacked: true, weight: 0,
          grid: {display: false, drawTicks: false}, border: {display: false},
          ticks: {
            autoSkip: false, minRotation: 90, maxRotation: 90, padding: 5, color: '#222', font: {size: 8},
            callback(v, i) { return shown.has(i) ? this.getLabelForValue(v) : ''; }
          },
          afterFit: s => { s.height = 30; }
        },
        xl: {
          type: 'linear', position: 'bottom', weight: 1, offset: false, min: -0.5, max: n - 0.5,
          grid: {display: false, drawTicks: false}, border: {display: false},
          ticks: {autoSkip: false, maxRotation: 0, padding: 6, color: '#222', font: {size: 8}, callback: (v, i) => yearNames[i]},
          afterBuildTicks: s => { s.ticks = yrs.map(v => ({value: v})); },
          title: {display: true, text: 'Epidemiological week', align: 'end', color: '#222', font: {size: 8}, padding: {top: 0, bottom: 2}},
          afterFit: s => { s.height = 32; }
        },
        y: L ? yAxis(p.yl[0], p.yl[1], p.head, 'left', 82, 8, false)
             : yAxis(100, 20, p.head, 'left', 52, 7, true),
        y2: L ? yAxis(p.yr[0], p.yr[1], p.head, 'right', 80, 7, false)
              : yAxis(p.yr[0], p.yr[1], p.head, 'right', 111, 8, false)
      }
    },
    plugins: [decor]
  });
}

function addDiv(cls, x, y, w, h, bg, text) {
  const d = document.createElement('div');
  d.className = cls;
  d.style.left = x + 'px';
  d.style.top = y + 'px';
  if (w) d.style.width = w + 'px';
  if (h) d.style.height = h + 'px';
  if (bg) d.style.background = bg;
  if (text) d.textContent = text;
  document.body.appendChild(d);
  return d;
}

function legendItem(x, y, kind, color, text) {
  if (kind === 'bar') addDiv('sw', x, y - 2.3, 18, 4.6, color);
  if (kind === 'line') addDiv('sw', x, y - 1, 18, 2, color);
  if (kind === 'dots') {
    for (let k = 0; k < 4; k++) {
      const d = addDiv('sw', x + 1 + k * 5, y - 1.4, 2.8, 2.8, color);
      d.style.borderRadius = '50%';
    }
  }
  addDiv('lg', x + 25.5, y - 6, 0, 0, null, text);
}

function legendBlock(y0) {
  legendItem(29, y0 + 2, 'bar', '#f4b183', 'Notified TB preventive treatment prescription');
  legendItem(29, y0 + 15.6, 'line', '#000', 'Notified COVID-19 cases');
  legendItem(29, y0 + 27.7, 'dots', '#333', 'Joinpoint');
  legendItem(357, y0, 'bar', '#375623', 'Treatment completed');
  legendItem(357, y0 + 10.7, 'bar', '#ed7d31', 'Death');
  legendItem(357, y0 + 22, 'bar', '#ffc000', 'Neonate with TST < 5mm at');
  legendItem(357, y0 + 32.6, null, null, '3rd month');
  legendItem(357, y0 + 43, 'bar', '#70ad47', 'Transfer out');
  legendItem(357, y0 + 53, 'dots', '#333', 'Joinpoint');
  legendItem(531, y0, 'bar', '#4472c4', 'Loss to follow-up');
  legendItem(531, y0 + 10.7, 'bar', '#a5a5a5', 'Unfavorable clinical condition');
  legendItem(531, y0 + 22, 'bar', '#5b9bd5', 'Adverse events');
  legendItem(531, y0 + 31, 'bar', '#636363', 'Active TB during TB');
  legendItem(531, y0 + 40, null, null, 'preventive treatment');
  legendItem(531, y0 + 53.6, 'line', '#000', 'Notified COVID-19 cases');
}

panels.forEach(build);
legendTops.forEach(legendBlock);
</script>
</body>
</html>
